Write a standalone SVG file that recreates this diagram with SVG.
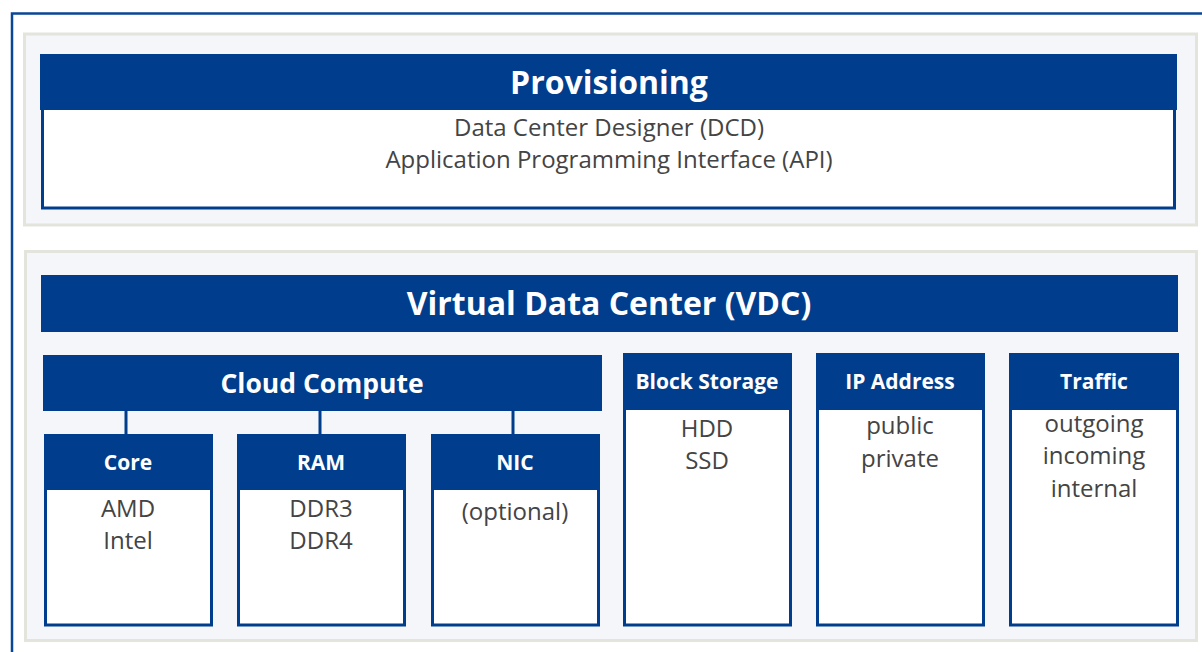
<svg xmlns="http://www.w3.org/2000/svg" width="1202" height="652" viewBox="0 0 1202 652">
<style>
.panel{fill:#f4f6f9;stroke:#e3e4dc;stroke-width:3}
.hdr{fill:#003d8c}
.body{fill:#fff;stroke:#003d8c;stroke-width:3}
.conn{stroke:#003d8c;stroke-width:3}
.t1{font-family:"Open Sans","Liberation Sans",sans-serif;font-weight:bold;fill:#fff;text-anchor:middle}
.tb{font-family:"Open Sans","Liberation Sans",sans-serif;fill:#444;text-anchor:middle;font-size:24px}
</style>
<rect width="1202" height="652" fill="#fff"/>
<path d="M12,652 V13.5 H1202" fill="none" stroke="#0a4596" stroke-width="2.5"/>
<g id="provisioning">
<rect class="panel" x="24.5" y="34" width="1172" height="191"/>
<rect class="body" x="42.5" y="100" width="1132" height="108"/>
<rect class="hdr" x="40" y="54" width="1137" height="56"/>
<text class="t1" x="609" y="94" font-size="32">Provisioning</text>
<text class="tb" x="609" y="136">Data Center Designer (DCD)</text>
<text class="tb" x="609" y="168">Application Programming Interface (API)</text>
</g>
<g id="vdc">
<rect class="panel" x="25.5" y="251.5" width="1171" height="389"/>
<rect class="hdr" x="41" y="275" width="1137" height="57"/>
<text class="t1" x="609" y="315" font-size="32">Virtual Data Center (VDC)</text>
</g>
<g id="connectors">
<line class="conn" x1="126" y1="410" x2="126" y2="435"/>
<line class="conn" x1="320" y1="410" x2="320" y2="435"/>
<line class="conn" x1="513" y1="410" x2="513" y2="435"/>
</g>
<g id="cloud-compute">
<rect class="hdr" x="43" y="355" width="559" height="56"/>
<text class="t1" x="322" y="393" font-size="26.5">Cloud Compute</text>
</g>
<g id="core">
<rect class="body" x="45.5" y="480" width="166" height="145"/>
<rect class="hdr" x="44" y="434" width="169" height="56"/>
<text class="t1" x="128" y="470" font-size="21">Core</text>
<text class="tb" x="128" y="517">AMD</text>
<text class="tb" x="128" y="549">Intel</text>
</g>
<g id="ram">
<rect class="body" x="238.5" y="480" width="166" height="145"/>
<rect class="hdr" x="237" y="434" width="169" height="56"/>
<text class="t1" x="321" y="470" font-size="21">RAM</text>
<text class="tb" x="321" y="517">DDR3</text>
<text class="tb" x="321" y="549">DDR4</text>
</g>
<g id="nic">
<rect class="body" x="432.5" y="480" width="166" height="145"/>
<rect class="hdr" x="431" y="434" width="169" height="56"/>
<text class="t1" x="515" y="470" font-size="21">NIC</text>
<text class="tb" x="515" y="520">(optional)</text>
</g>
<g id="block-storage">
<rect class="body" x="624.5" y="400" width="166" height="225"/>
<rect class="hdr" x="623" y="353" width="169" height="57"/>
<text class="t1" x="707" y="389" font-size="21">Block Storage</text>
<text class="tb" x="707" y="437">HDD</text>
<text class="tb" x="707" y="469">SSD</text>
</g>
<g id="ip-address">
<rect class="body" x="817.5" y="400" width="166" height="225"/>
<rect class="hdr" x="816" y="353" width="169" height="57"/>
<text class="t1" x="900" y="389" font-size="21">IP Address</text>
<text class="tb" x="900" y="434">public</text>
<text class="tb" x="900" y="467">private</text>
</g>
<g id="traffic">
<rect class="body" x="1010.5" y="400" width="167" height="225"/>
<rect class="hdr" x="1009" y="353" width="170" height="57"/>
<text class="t1" x="1094" y="389" font-size="21">Traffic</text>
<text class="tb" x="1094" y="432">outgoing</text>
<text class="tb" x="1094" y="464">incoming</text>
<text class="tb" x="1094" y="497">internal</text>
</g>
</svg>
